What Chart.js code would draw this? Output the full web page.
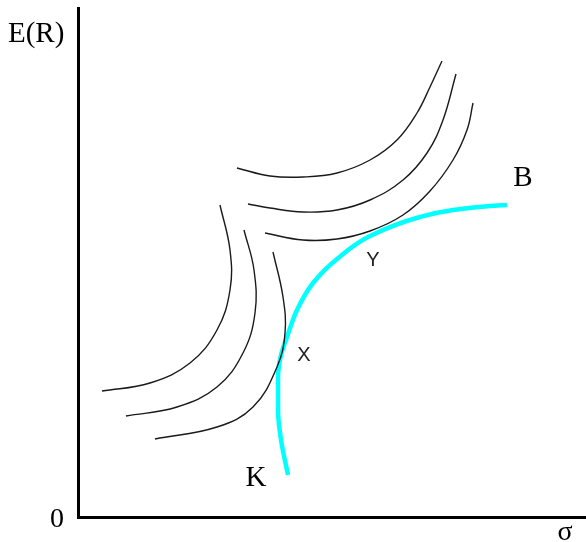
<!DOCTYPE html>
<html>
<head>
<meta charset="utf-8">
<script src="https://cdn.jsdelivr.net/npm/chart.js@4/dist/chart.umd.min.js"></script>
<style>
  html, body { margin: 0; padding: 0; background: #fff; }
  #wrap { width: 586px; height: 542px; }
</style>
</head>
<body>
<div id="wrap"><canvas id="c" width="586" height="542"></canvas></div>
<script>
// Risk (σ) on x, expected return E(R) on y, in arbitrary diagram units.

// Efficient frontier K → B
const frontierSigma = [210, 203, 200, 200, 203, 209, 219, 235, 259, 292, 342, 375, 412, 429];
const frontierReturn = [42, 77, 107, 139, 162, 180, 207, 234, 258, 281, 300, 307, 311, 312];

// Indifference curves, investor with tangency at Y (upper group)
const upperSigma1 = [159, 192, 225, 259, 292, 319, 339, 352, 364];
const upperReturn1 = [349, 341, 340, 344, 357, 377, 404, 430, 456];
const upperSigma2 = [170, 192, 225, 259, 292, 325, 349, 365, 378];
const upperReturn2 = [313, 309, 305, 307, 317, 337, 364, 397, 443];
const upperSigma3 = [187, 225, 259, 292, 325, 352, 375, 389, 395];
const upperReturn3 = [284, 277, 278, 286, 302, 326, 357, 387, 414];

// Indifference curves, investor with tangency at X (left group)
const leftSigma1 = [142, 152, 152, 139, 112, 72, 24];
const leftReturn1 = [312, 267, 227, 187, 154, 134, 126];
const leftSigma2 = [166, 176, 177, 165, 139, 99, 48];
const leftReturn2 = [287, 247, 204, 164, 130, 110, 101];
const leftSigma3 = [195, 205, 207, 199, 175, 139, 77];
const leftReturn3 = [265, 220, 184, 150, 110, 90, 78];

// Point labels on the diagram
const pointLabels = ['K', 'B', 'X', 'Y'];
const pointSigma = [178, 445, 226, 295];
const pointReturn = [39, 339, 162, 257];

const toPoints = (xs, ys) => xs.map((x, i) => ({ x, y: ys[i] }));

// thin black indifference curve (bezier-smoothed)
const curve = (xs, ys) => ({
  data: toPoints(xs, ys),
  showLine: true,
  borderColor: '#1a1a1a',
  borderWidth: 1.4,
  pointRadius: 0,
  tension: 0.4,
  fill: false
});

const labelPlugin = {
  id: 'diagramLabels',
  afterDraw(chart) {
    const { ctx, chartArea, scales } = chart;
    ctx.save();
    ctx.fillStyle = '#000';
    ctx.textBaseline = 'middle';

    // axis captions
    ctx.font = '29px "Liberation Serif", serif';
    ctx.textAlign = 'left';
    ctx.fillText('E(R)', 8, 34);
    ctx.textAlign = 'center';
    ctx.font = '28px "Liberation Serif", serif';
    ctx.fillText('0', chartArea.left - 21, chartArea.bottom + 3);
    ctx.fillText('σ', 565, chartArea.bottom + 16);

    // point labels
    pointLabels.forEach((t, i) => {
      const px = scales.x.getPixelForValue(pointSigma[i]);
      const py = scales.y.getPixelForValue(pointReturn[i]);
      if (t === 'K' || t === 'B') {
        ctx.font = '29px "Liberation Serif", serif';
        ctx.fillStyle = '#000';
      } else {
        ctx.font = '20px "Liberation Sans", sans-serif';
        ctx.fillStyle = '#222';
      }
      ctx.fillText(t, px, py);
    });
    ctx.restore();
  }
};

new Chart(document.getElementById('c'), {
  type: 'scatter',
  data: {
    datasets: [
      curve(upperSigma1, upperReturn1),
      curve(upperSigma2, upperReturn2),
      curve(upperSigma3, upperReturn3),
      curve(leftSigma1, leftReturn1),
      curve(leftSigma2, leftReturn2),
      curve(leftSigma3, leftReturn3),
      {
        // frontier runs monotonically upward in E(R)
        data: toPoints(frontierSigma, frontierReturn),
        indexAxis: 'y',
        showLine: true,
        borderColor: '#00ffff',
        borderWidth: 4.5,
        pointRadius: 0,
        cubicInterpolationMode: 'monotone',
        fill: false
      }
    ]
  },
  options: {
    responsive: false,
    devicePixelRatio: 1,
    animation: false,
    layout: { padding: { left: 70, top: 8, right: 0, bottom: 17 } },
    plugins: { legend: { display: false }, tooltip: { enabled: false } },
    scales: {
      x: {
        type: 'linear', min: 0, max: 508,
        grid: { display: false },
        ticks: { display: false },
        border: { display: true, color: '#000', width: 3 }
      },
      y: {
        type: 'linear', min: 0, max: 509,
        grid: { display: false },
        ticks: { display: false },
        border: { display: true, color: '#000', width: 3 }
      }
    }
  },
  plugins: [labelPlugin]
});
</script>
</body>
</html>
